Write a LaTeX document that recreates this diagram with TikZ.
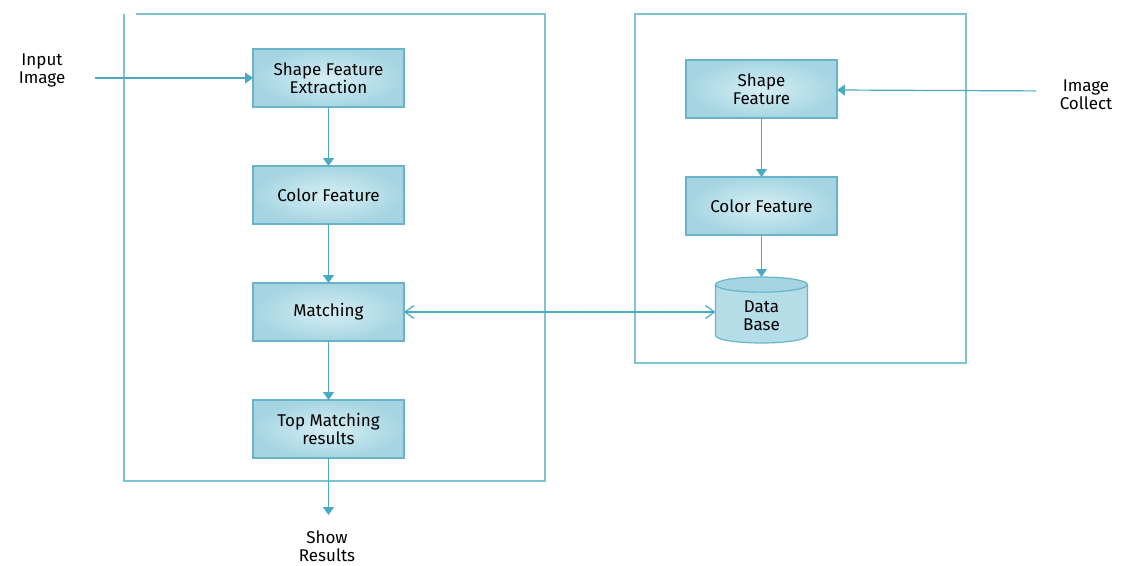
\documentclass[tikz,border=0pt]{standalone}
\usepackage{fontspec}
\setmainfont{Fira Sans}
\definecolor{flowline}{RGB}{75,170,195}
\definecolor{frameline}{RGB}{125,195,210}
\definecolor{boxedge}{RGB}{105,180,200}
\definecolor{boxlight}{RGB}{214,238,244}
\definecolor{boxdark}{RGB}{165,213,226}
\usetikzlibrary{
  arrows.meta,
  positioning,
  shapes.geometric,
}
\tikzset{
  >={Triangle[width=11pt,length=8pt]},
  stage/.style={draw=boxedge,line width=1.2pt,inner color=boxlight,outer color=boxdark,outer sep=0pt,
    minimum width=151pt,minimum height=58pt,align=center,font=\fontsize{17}{18}\selectfont},
  store/.style={cylinder,shape border rotate=90,aspect=0.35,draw=boxedge,line width=1.2pt,outer sep=0pt,
    cylinder uses custom fill,cylinder body fill=boxdark!70!boxlight,cylinder end fill=boxdark,
    minimum width=92pt,minimum height=66pt,align=center,font=\fontsize{17}{18}\selectfont},
  outside/.style={align=center,font=\fontsize{17}{18}\selectfont},
  flow/.style={draw=flowline,line width=1.2pt},
  frame/.style={draw=frameline,line width=1.2pt},
}
\begin{document}
\begin{tikzpicture}[x=1pt,y=-1pt,node distance=59pt and 0pt]
        \useasboundingbox (0,0) rectangle (1121,565);

        \draw[frame] (124,14) -- (124,481) -- (545,481) -- (545,14) -- (136,14);
        \draw[frame] (635,14) rectangle (966,363);

        \node[stage]    (a0) at (328.5,78)   {Shape Feature\\Extraction};
        \node[stage]    (a1) [below=of a0]   {Color Feature};
        \node[stage]    (a2) [below=of a1]   {Matching};
        \node[stage]    (a3) [below=of a2]   {Top Matching\\results};

        \node[stage]    (b0) at (761.5,89)   {Shape\\Feature};
        \node[stage]    (b1) [below=of b0]   {Color Feature};
        \node[store]    (b2) [below=42pt of b1]   {Data\\Base};

        \node[outside]  (in)  at (42,70)     {Input\\Image};
        \node[outside]  (col) at (1086,95)   {Image\\Collect};
        \node[outside]  (out) at (327,546)   {Show\\Results};

        \draw[flow,->,shorten <=26pt] (in.east |- a0.west) -- (a0.west);
        \draw[flow,->,shorten <=20pt] ([yshift=4pt]col.west) -- ([yshift=-1pt]b0.east);
        \draw[flow,->] (a0.south) -- (a1.north);
        \draw[flow,->] (a1.south) -- (a2.north);
        \draw[flow,->] (a2.south) -- (a3.north);
        \draw[flow,->,shorten >=12pt] (a3.south) -- (a3.south |- out.north);
        \draw[flow,->] (b0.south) -- (b1.north);
        \draw[flow,->] (b1.south) -- (b2.north);
        \draw[flow,{Straight Barb[length=9pt,width=13pt]}-{Straight Barb[length=9pt,width=13pt]}] (a2.east) -- (a2.east -| b2.west);

    \end{tikzpicture}
\end{document}
